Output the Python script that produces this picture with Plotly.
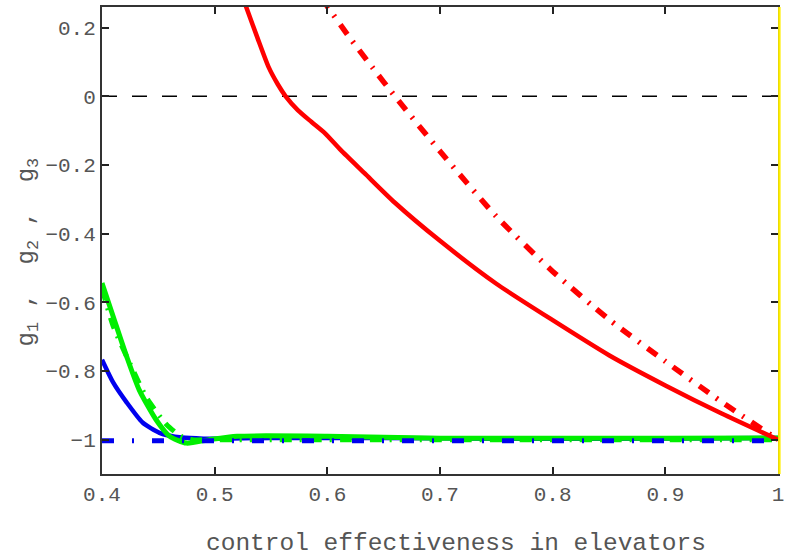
import plotly.graph_objects as go

# ---- data ----
red_solid_x = [0.524, 0.528, 0.538, 0.548, 0.556, 0.563, 0.574, 0.586, 0.598, 0.612, 0.633,
               0.66, 0.70, 0.75, 0.80, 0.85, 0.90, 0.95, 1.0]
red_solid_y = [0.30, 0.26, 0.17, 0.084, 0.035, 0.0, -0.041, -0.075, -0.108, -0.157, -0.224,
               -0.31, -0.421, -0.546, -0.652, -0.754, -0.842, -0.924, -1.0]

red_dd_x = [0.595, 0.60, 0.62, 0.64, 0.66, 0.70, 0.75, 0.80, 0.85, 0.90, 0.95, 1.0]
red_dd_y = [0.285, 0.262, 0.17, 0.084, 0.0, -0.16, -0.35, -0.51, -0.65, -0.772, -0.89, -1.0]

blue_solid_x = [0.4, 0.41, 0.422, 0.436, 0.451, 0.471, 0.49, 0.55, 0.65, 0.75, 0.85, 0.95, 1.0]
blue_solid_y = [-0.767, -0.834, -0.892, -0.95, -0.98, -0.994, -0.997, -0.995, -0.995, -0.997,
                -0.997, -0.996, -0.995]

blue_dd_x = [0.4, 1.0]
blue_dd_y = [-1.003, -1.003]

green_solid_x = [0.4, 0.41, 0.422, 0.433, 0.448, 0.46, 0.475, 0.495, 0.52, 0.6, 0.65, 0.7,
                 0.8, 0.9, 1.0]
green_solid_y = [-0.544, -0.642, -0.759, -0.855, -0.942, -0.99, -1.01, -1.0, -0.99, -0.99,
                 -0.993, -0.996, -0.996, -0.996, -0.995]

green_dash_x = [0.4, 0.41, 0.425, 0.44, 0.457, 0.47, 0.48, 0.5, 1.0]
green_dash_y = [-0.56, -0.67, -0.78, -0.88, -0.955, -0.99, -1.0, -1.0, -1.0]

zero_x = [0.4, 1.0]
zero_y = [0.0, 0.0]

x_ticks = [0.4, 0.5, 0.6, 0.7, 0.8, 0.9, 1.0]
x_tick_text = ["0.4", "0.5", "0.6", "0.7", "0.8", "0.9", "1"]
y_ticks = [-1.0, -0.8, -0.6, -0.4, -0.2, 0.0, 0.2]
y_tick_text = ["\u22121", "\u22120.8", "\u22120.6", "\u22120.4", "\u22120.2", "0", "0.2"]

x_title = "control effectiveness in elevators"
NB = "\u00a0"
y_title = f"g<sub>1</sub>{NB},{NB}{NB}g<sub>2</sub>{NB},{NB}{NB}g<sub>3</sub>"

FONT = "Liberation Mono, Courier New, monospace"

fig = go.Figure()
fig.add_trace(go.Scatter(x=zero_x, y=zero_y, mode="lines",
                         line=dict(color="black", width=1.5, dash="15px,15px")))
fig.add_trace(go.Scatter(x=blue_solid_x, y=blue_solid_y, mode="lines", line_shape="spline",
                         line=dict(color="#0000ee", width=4.5, smoothing=0.6)))
fig.add_trace(go.Scatter(x=green_solid_x, y=green_solid_y, mode="lines", line_shape="spline",
                         line=dict(color="#00ee00", width=5, smoothing=0.6)))
fig.add_trace(go.Scatter(x=green_dash_x, y=green_dash_y, mode="lines", line_shape="spline",
                         line=dict(color="#00ee00", width=5, dash="12px,8px,2px,8px",
                                   smoothing=0.6)))
fig.add_trace(go.Scatter(x=blue_dd_x, y=blue_dd_y, mode="lines",
                         line=dict(color="#0000ee", width=5, dash="12px,18px,2px,18px")))
fig.add_trace(go.Scatter(x=red_solid_x, y=red_solid_y, mode="lines", line_shape="spline",
                         line=dict(color="#ff0000", width=4.5, smoothing=0.6)))
fig.add_trace(go.Scatter(x=red_dd_x, y=red_dd_y, mode="lines", line_shape="spline",
                         line=dict(color="#ff0000", width=5.5, dash="12px,9px,2px,9px",
                                   smoothing=0.6)))

fig.add_shape(type="line", xref="paper", yref="paper", x0=1.002, x1=1.002, y0=0, y1=1,
              line=dict(color="#ffee00", width=2.5), layer="above")

fig.add_annotation(text=x_title, xref="paper", yref="paper", x=0.523, y=-0.148,
                   xanchor="center", yanchor="middle", showarrow=False,
                   font=dict(family=FONT, size=24.5, color="#555"))
fig.add_annotation(text=y_title, xref="paper", yref="paper", x=-0.109, y=0.475,
                   xanchor="center", yanchor="middle", showarrow=False, textangle=-90,
                   font=dict(family=FONT, size=24, color="#555"))

fig.update_layout(
    width=788, height=559,
    margin=dict(l=102, r=4, t=7, b=85),
    paper_bgcolor="white", plot_bgcolor="white",
    showlegend=False,
    font=dict(family=FONT, color="#555555", size=21),
)
fig.update_xaxes(range=[0.4, 1.0], tickvals=x_ticks, ticktext=x_tick_text,
                 ticks="inside", ticklen=7, tickcolor="#222", tickwidth=1.5,
                 showline=True, linecolor="#333", linewidth=2, mirror="ticks",
                 showgrid=False, zeroline=False, ticklabeloverflow="allow",
                 tickfont=dict(family=FONT, size=21, color="#555"))
fig.update_yaxes(range=[-1.1, 0.26], tickvals=y_ticks, ticktext=y_tick_text,
                 ticks="inside", ticklen=7, tickcolor="#222", tickwidth=1.5,
                 showline=True, linecolor="#333", linewidth=2, mirror="ticks",
                 showgrid=False, zeroline=False,
                 tickfont=dict(family=FONT, size=21, color="#555"))

fig.write_html("out.html")
